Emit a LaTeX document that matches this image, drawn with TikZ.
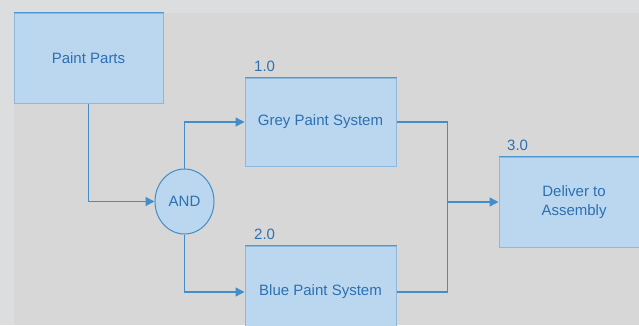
\documentclass[tikz,border=0pt]{standalone}
\usepackage{fontspec}
\setmainfont{Liberation Sans}
\usetikzlibrary{arrows.meta,shapes.geometric}
\definecolor{outerbg}{HTML}{DCDDDF}
\definecolor{innerbg}{HTML}{D7D7D7}
\definecolor{boxfill}{HTML}{BAD7EF}
\definecolor{boxedge}{HTML}{8DB8DD}
\definecolor{boxtop}{HTML}{5296CF}
\definecolor{linecol}{HTML}{428DCB}
\definecolor{txtcol}{HTML}{2C70B2}
\begin{document}
\begin{tikzpicture}[x=1pt,y=-1pt,
  every node/.style={font=\fontsize{15}{18.5}\selectfont, text=txtcol},
  procbox/.style={rectangle, draw=boxedge, line width=1pt, fill=boxfill, inner sep=0pt, align=center},
  gate/.style={ellipse, draw=linecol, line width=1pt, fill=boxfill, inner sep=0pt, minimum width=59pt, minimum height=65pt},
  numlabel/.style={anchor=south west, inner sep=0pt},
  flow/.style={draw=linecol, line width=1.4pt},
  flowarrow/.style={flow, -{Triangle[length=9pt,width=9pt]}}
]
\useasboundingbox (0,0) rectangle (639,325);
\clip (0,0) rectangle (639,325);
\fill[outerbg] (0,0) rectangle (639,325);
\fill[innerbg] (14,13) rectangle (639,325);

\node[procbox, minimum width=149pt, minimum height=90pt] (pp) at (88.5,58) {Paint Parts};
\draw[boxtop, line width=1.5pt] (pp.north west) -- (pp.north east);

\node[gate] (and) at (184.5,201.5) {AND};

\node[procbox, minimum width=151pt, minimum height=88pt] (grey) at (320.5,122) {Grey Paint System};
\draw[boxtop, line width=1.5pt] (grey.north west) -- (grey.north east);
\node[numlabel] (l1) at (254,72) {1.0};

\node[procbox, minimum width=151pt, minimum height=92pt] (blue) at (320.5,292) {Blue Paint System};
\draw[boxtop, line width=1.5pt] (blue.north west) -- (blue.north east);
\node[numlabel] (l2) at (254,240) {2.0};

\node[procbox, minimum width=150pt, minimum height=90pt] (del) at (574,202) {Deliver to\\Assembly};
\draw[boxtop, line width=1.5pt] (del.north west) -- (del.north east);
\node[numlabel] (l3) at (507,151) {3.0};

\coordinate (jn) at (447.5,202);

\draw[flowarrow] (pp.south) |- (and.west);
\draw[flowarrow] (and.north) |- (grey.west);
\draw[flowarrow] (and.south) |- (blue.west);
\draw[flow] (grey.east) -| (jn);
\draw[flow] (blue.east) -| (jn);
\draw[flowarrow] (jn) -- (del.west);
\end{tikzpicture}
\end{document}
